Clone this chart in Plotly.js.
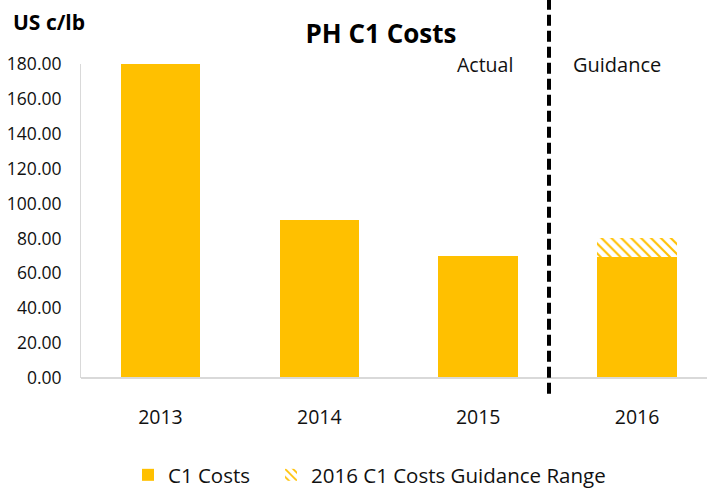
<!DOCTYPE html>
<html><head><meta charset="utf-8">
<script src="https://cdn.plot.ly/plotly-3.0.1.min.js"></script>
<style>body{margin:0;background:#fff}#c{width:707px;height:488px}</style>
</head><body><div id="c"></div>
<script>
const years = ['2013','2014','2015','2016'];
const c1Costs = [180, 90.8, 70, 69.5];
const guidanceRange = [null, null, null, 10.6];
const yTicks = [0,20,40,60,80,100,120,140,160,180];

const font = "'Open Sans', 'Noto Sans', sans-serif";
const data = [
  {type:'bar', x:years, y:c1Costs, name:'C1 Costs\u00a0\u00a0\u00a0', marker:{color:'#FFC000'}, hoverinfo:'y'},
  {type:'bar', x:years, y:guidanceRange, name:'2016 C1 Costs Guidance Range',
   marker:{color:'#FFC000', pattern:{shape:'\\', fgcolor:'#FFC000', bgcolor:'#ffffff', size:7, solidity:0.3}}}
];
const layout = {
  width:707, height:488,
  margin:{l:81, r:0, t:64, b:110},
  barmode:'stack', bargap:0.5,
  paper_bgcolor:'#fff', plot_bgcolor:'#fff',
  font:{family:font, color:'#111', size:18},
  title:{text:'<b>PH C1 Costs</b>', x:381/707, xanchor:'center', y:1-34/488, yanchor:'middle', font:{size:26, family:font, color:'#000'}},
  xaxis:{type:'category', range:[-0.5,3.44], showgrid:false, zeroline:false, showline:false,
         ticks:'outside', ticklen:22, tickcolor:'rgba(0,0,0,0)', tickfont:{size:19.5}},
  yaxis:{range:[0,180], tickvals:yTicks, tickformat:'.2f', showgrid:false, zeroline:false,
         showline:true, linecolor:'#d9d9d9', linewidth:1, ticks:'outside', ticklen:15, tickcolor:'rgba(0,0,0,0)', tickfont:{size:17.5}},
  showlegend:true,
  legend:{orientation:'h', traceorder:'normal', xref:'container', yref:'container', x:128/707, xanchor:'left', y:(488-475)/488, yanchor:'middle',
          font:{size:20.5}, itemwidth:30},
  shapes:[
    {type:'line', xref:'paper', yref:'paper', x0:0, x1:1, y0:0, y1:0, line:{color:'#d9d9d9', width:2}},
    {type:'line', xref:'paper', yref:'paper', x0:(549-81)/626, x1:(549-81)/626, y0:-0.05, y1:1.21,
     line:{color:'#000', width:4, dash:'11px,5px'}}
  ],
  annotations:[
    {text:'<b>US c/lb</b>', xref:'paper', yref:'paper', x:(11-81)/626, xanchor:'left', y:(378-22)/314, yanchor:'middle', showarrow:false, font:{size:21, color:'#000'}},
    {text:'Actual', xref:'paper', yref:'paper', x:(485-81)/626, xanchor:'center', y:(378-64)/314, yanchor:'middle', showarrow:false, font:{size:19.5}},
    {text:'Guidance', xref:'paper', yref:'paper', x:(617-81)/626, xanchor:'center', y:(378-64)/314, yanchor:'middle', showarrow:false, font:{size:20}}
  ]
};
Plotly.newPlot('c', data, layout, {displayModeBar:false});
</script></body></html>
